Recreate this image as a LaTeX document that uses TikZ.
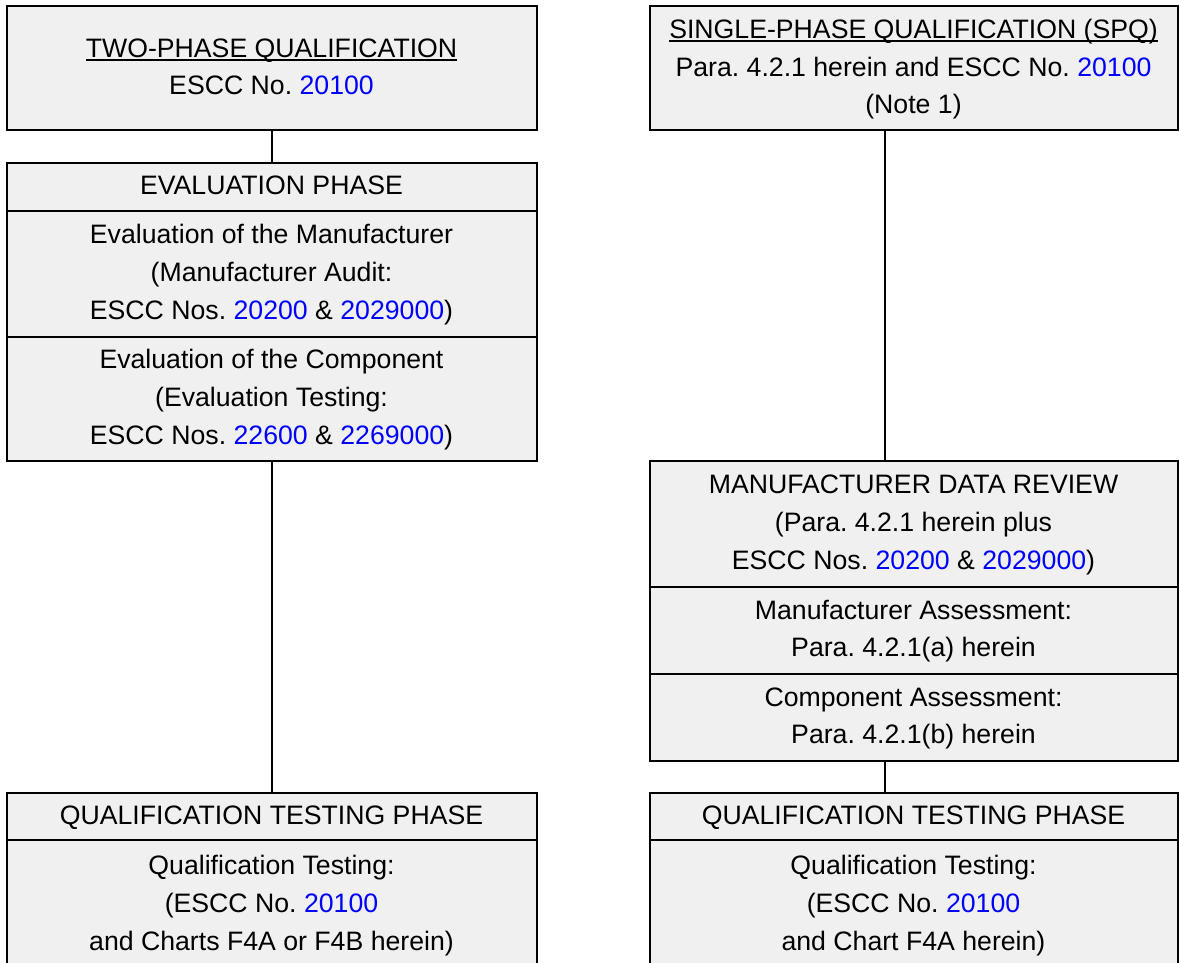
\documentclass[tikz,border=0pt]{standalone}
\usepackage{fontspec}
\setmainfont{Liberation Sans}
\usetikzlibrary{calc}
\definecolor{boxfill}{RGB}{240,240,240}
\definecolor{refblue}{RGB}{0,0,255}
\newcommand\bl[1]{\textcolor{refblue}{#1}}
\newcommand\myuline[1]{\setbox0\hbox{#1}\rlap{\vrule width\wd0 height -1.6pt depth 2.7pt}\box0}
\frenchspacing
\tikzset{
  sect/.style={draw, fill=boxfill, line width=1.5pt, inner sep=0pt, align=center,
    font=\fontsize{20pt}{28.3pt}\selectfont},
  lcol/.style={sect, minimum width=397.5pt},
  rcol/.style={sect, minimum width=396pt},
  conn/.style={line width=1.5pt, draw=black}
}
\begin{document}
\begin{tikzpicture}[x=0.75pt,y=-0.75pt]
\clip (0,0) rectangle (1179,963);
\fill[white] (0,0) rectangle (1179,963);
% left column
\node[lcol, minimum height=93pt] (L1) at (271.5,68.5)
  {\strut\myuline{TWO-PHASE QUALIFICATION}\\\strut ESCC No. \bl{20100}};
\node[lcol, minimum height=36pt] (L2) at (271.5,187) {\strut EVALUATION PHASE};
\node[lcol, minimum height=94.5pt] (L3) at (271.5,274)
  {\strut Evaluation of the Manufacturer\\\strut (Manufacturer Audit:\\\strut ESCC Nos. \bl{20200} \& \bl{2029000})};
\node[lcol, minimum height=93pt] (L4) at (271.5,399)
  {\strut Evaluation of the Component\\\strut (Evaluation Testing:\\\strut ESCC Nos. \bl{22600} \& \bl{2269000})};
\node[lcol, minimum height=35.25pt] (L5) at (271.5,816.5) {\strut QUALIFICATION TESTING PHASE};
\node[lcol, minimum height=97.5pt] (L6) at (271.5,905)
  {\strut Qualification Testing:\\\strut (ESCC No. \bl{20100}\\\strut and Charts F4A or F4B herein)};
% right column
\node[rcol, minimum height=93pt] (R1) at (913.5,68.5)
  {\strut\myuline{SINGLE-PHASE QUALIFICATION (SPQ)}\\\strut Para. 4.2.1 herein and ESCC No. \bl{20100}\\\strut (Note 1)};
\node[rcol, minimum height=94.5pt] (R2) at (913.5,524)
  {\strut MANUFACTURER DATA REVIEW\\\strut (Para. 4.2.1 herein plus\\\strut ESCC Nos. \bl{20200} \& \bl{2029000})};
\node[rcol, minimum height=65.25pt] (R3) at (913.5,630.5)
  {\strut Manufacturer Assessment:\\\strut Para. 4.2.1(a) herein};
\node[rcol, minimum height=65.25pt] (R4) at (913.5,717.5)
  {\strut Component Assessment:\\\strut Para. 4.2.1(b) herein};
\node[rcol, minimum height=35.25pt] (R5) at (913.5,816.5) {\strut QUALIFICATION TESTING PHASE};
\node[rcol, minimum height=97.5pt] (R6) at (913.5,905)
  {\strut Qualification Testing:\\\strut (ESCC No. \bl{20100}\\\strut and Chart F4A herein)};
% connectors
\coordinate (rx) at (885,0);
\draw[conn] (L1.south) -- (L2.north);
\draw[conn] (L4.south) -- (L5.north);
\draw[conn] (R1.south -| rx) -- (R2.north -| rx);
\draw[conn] (R4.south -| rx) -- (R5.north -| rx);
\end{tikzpicture}
\end{document}
